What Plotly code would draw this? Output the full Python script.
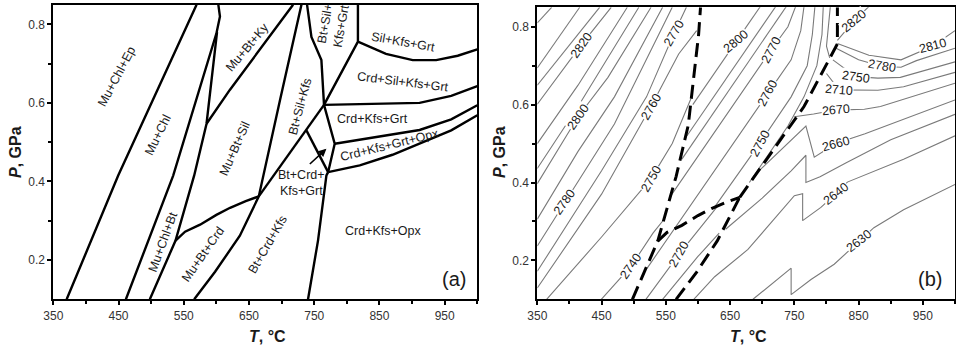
import plotly.graph_objects as go

T_TICKS = [350, 450, 550, 650, 750, 850, 950]
T_MINOR = [400, 500, 600, 700, 800, 900, 1000]
P_TICKS = [0.2, 0.4, 0.6, 0.8]
P_MINOR = [0.3, 0.5, 0.7]
T_RANGE = [350, 1000]
P_RANGE = [0.1, 0.85]

# ---------------- Panel (a): phase boundaries (T degC, P GPa) ----------------
ep_T = [370.5, 449.5, 569.6]
ep_P = [0.10, 0.415, 0.85]
chl_bt_T = [461.3, 533.8, 600.2, 605.5, 603.0]
chl_bt_P = [0.10, 0.415, 0.778, 0.82, 0.85]
chl_out_T = [498.0, 537.4, 566.0, 584.9, 601.0]
chl_out_P = [0.10, 0.2495, 0.4153, 0.547, 0.780]
ky_sil_T = [584.9, 620.6, 717.6]
ky_sil_P = [0.547, 0.633, 0.85]
crd_low_T = [537.4, 552, 575, 600, 621, 645, 665]
crd_low_P = [0.2495, 0.272, 0.290, 0.315, 0.333, 0.350, 0.362]
mu_out_T = [566, 598, 636, 665, 697.5, 730.4]
mu_out_P = [0.10, 0.17, 0.262, 0.362, 0.607, 0.85]
crd_high_T = [665, 738, 765]
crd_high_P = [0.362, 0.530, 0.595]
grt_in_T = [765, 763, 761, 745.7, 739]
grt_in_P = [0.595, 0.66, 0.709, 0.768, 0.85]
bt_out_hi_T = [765, 817, 817]
bt_out_hi_P = [0.595, 0.756, 0.85]
sil_out_T = [817, 860, 901, 937, 970, 1000]
sil_out_P = [0.756, 0.725, 0.709, 0.709, 0.72, 0.736]
crd_sil_T = [765, 850, 911.5, 960, 1000]
crd_sil_P = [0.595, 0.597, 0.600, 0.618, 0.6425]
mid_vert_T = [765, 781.4, 771.3]
mid_vert_P = [0.595, 0.496, 0.4237]
opx_up_T = [781.4, 850, 911.5, 960, 1000]
opx_up_P = [0.496, 0.514, 0.531, 0.558, 0.594]
opx_lo_T = [771.3, 819.8, 870, 911.5, 960, 1000]
opx_lo_P = [0.4237, 0.441, 0.468, 0.496, 0.530, 0.5685]
bt_grt_T = [738, 771.3]
bt_grt_P = [0.530, 0.4237]
bt_out_lo_T = [771.3, 768.7, 755.8, 740.5]
bt_out_lo_P = [0.4237, 0.4153, 0.2495, 0.10]

a_lines = [(ep_T, ep_P), (chl_bt_T, chl_bt_P), (chl_out_T, chl_out_P), (ky_sil_T, ky_sil_P),
           (crd_low_T, crd_low_P), (mu_out_T, mu_out_P), (crd_high_T, crd_high_P),
           (grt_in_T, grt_in_P), (bt_out_hi_T, bt_out_hi_P), (sil_out_T, sil_out_P),
           (crd_sil_T, crd_sil_P), (mid_vert_T, mid_vert_P), (opx_up_T, opx_up_P),
           (opx_lo_T, opx_lo_P), (bt_grt_T, bt_grt_P), (bt_out_lo_T, bt_out_lo_P)]

field_text = ["Mu+Chl+Ep", "Mu+Chl", "Mu+Bt+Ky", "Mu+Bt+Sil", "Mu+Chl+Bt", "Mu+Bt+Crd",
              "Bt+Crd+Kfs", "Bt+Sil+Kfs", "Bt+Sil+<br>Kfs+Grt", "Sil+Kfs+Grt",
              "Crd+Sil+Kfs+Grt", "Crd+Kfs+Grt", "Crd+Kfs+Grt+Opx", "Crd+Kfs+Opx"]
field_T = [447, 511, 648, 628, 518.5, 580, 679, 728, 779, 886, 886, 840, 866, 855]
field_P = [0.666, 0.517, 0.742, 0.483, 0.245, 0.215, 0.241, 0.59, 0.798, 0.756, 0.653, 0.56, 0.494, 0.275]
field_ang = [-62, -64, -50, -66, -70, -55, -60, -75, -80, 10, 7, 0, -14, 0]

arrow_label = "Bt+Crd+<br>Kfs+Grt"
arrow_label_T, arrow_label_P = 730.4, 0.396
arrow_head_T, arrow_head_P = 768.7, 0.4834
arrow_tail_T, arrow_tail_P = 741, 0.441

# ---------------- Panel (b): density contours (kg/m3) ----------------
dash_chl_T = [498.0, 537.4, 566.0, 584.9, 601.0, 604.0]
dash_chl_P = [0.10, 0.2495, 0.4153, 0.547, 0.780, 0.85]
dash_crd_low_T = crd_low_T
dash_crd_low_P = crd_low_P
dash_mu_T = [566, 598, 630, 665]
dash_mu_P = [0.10, 0.17, 0.25, 0.362]
dash_crd_hi_T = [665, 738, 765, 817, 817]
dash_crd_hi_P = [0.362, 0.530, 0.595, 0.756, 0.85]

# left region (Mu+Chl fields)
c2840_T = [350, 372.3]; c2840_P = [0.81, 0.85]
c2830_T = [350, 416]; c2830_P = [0.694, 0.85]
c2825_T = [350, 447]; c2825_P = [0.65, 0.85]
c2820_T = [350, 418.7, 465]; c2820_P = [0.601, 0.754, 0.85]
c2815_T = [350, 413.4, 490]; c2815_P = [0.50, 0.65, 0.85]
c2810_T = [350, 413.4, 508]; c2810_P = [0.436, 0.595, 0.85]
c2800_T = [350, 413.4, 460, 527]; c2800_P = [0.397, 0.569, 0.67, 0.85]
c2790_T = [350, 413.4, 470, 545]; c2790_P = [0.306, 0.48, 0.62, 0.85]
c2780_T = [350, 392.8, 470, 560]; c2780_P = [0.237, 0.349, 0.55, 0.85]
c2770_T = [350, 450, 520, 563, 582]; c2770_P = [0.172, 0.43, 0.62, 0.784, 0.85]
c2760_T = [350, 450, 526.9, 570, 598]; c2760_P = [0.129, 0.37, 0.595, 0.73, 0.79]
c2750_T = [364.5, 450, 526.9, 560, 589]; c2750_P = [0.10, 0.26, 0.41, 0.50, 0.615]
c2740_T = [449.6, 496, 530, 547]; c2740_P = [0.10, 0.185, 0.27, 0.305]
# middle wedge (Mu+Bt / Bt+Sil fields)
m2800_T = [592, 659.9, 697]; m2800_P = [0.60, 0.763, 0.852]
m2790_T = [583, 700, 721]; m2790_P = [0.52, 0.80, 0.852]
m2780_T = [575, 700, 737.5]; m2780_P = [0.46, 0.76, 0.852]
m2770_T = [559, 714, 740, 752]; m2770_P = [0.369, 0.741, 0.80, 0.852]
m2760_T = [521, 600, 708.8, 745, 760, 765]; m2760_P = [0.18, 0.37, 0.629, 0.715, 0.79, 0.852]
m2750_T = [625, 695.9, 745, 770, 778, 782]; m2750_P = [0.335, 0.50, 0.62, 0.70, 0.78, 0.852]
m2740_T = [680, 740, 765, 785, 793, 795]; m2740_P = [0.40, 0.545, 0.62, 0.70, 0.78, 0.852]
m2730_T = [806, 802, 800, 805]; m2730_P = [0.852, 0.79, 0.75, 0.72]
m2720_T = [519, 570.7, 630]; m2720_P = [0.10, 0.216, 0.338]
m2710_T = [545, 600, 633]; m2710_P = [0.10, 0.21, 0.27]
# right region (Sil / Crd / Opx fields)
c2820r_T = [817, 842.8, 866]; c2820r_P = [0.765, 0.815, 0.852]
c2810r_T = [817, 866, 916, 965, 1000]; c2810r_P = [0.757, 0.727, 0.715, 0.75, 0.79]
c2780r_T = [815, 850, 886.6, 916, 940, 1000]; c2780r_P = [0.745, 0.715, 0.698, 0.696, 0.713, 0.745]
c2750r_T = [810, 845.5, 880, 915, 1000]; c2750r_P = [0.715, 0.672, 0.668, 0.67, 0.71]
c2710r_T = [800, 819.6, 880, 920, 1000]; c2710r_P = [0.68, 0.638, 0.637, 0.646, 0.683]
c2670r_T = [749.7, 780, 814.5, 859, 884, 1000]; c2670r_P = [0.569, 0.576, 0.586, 0.588, 0.595, 0.655]
c2660_T = [695, 745, 768, 781, 814.5, 860, 900, 1000]
c2660_P = [0.43, 0.51, 0.545, 0.465, 0.50, 0.525, 0.55, 0.612]
c2650_T = [643, 700, 745, 768, 768, 790, 830, 900, 1000]
c2650_P = [0.28, 0.36, 0.43, 0.47, 0.40, 0.415, 0.45, 0.51, 0.575]
c2640_T = [593.5, 626, 677.8, 750, 762.9, 762.9, 791.3, 814.5, 832.5, 858, 920, 1000]
c2640_P = [0.10, 0.158, 0.228, 0.366, 0.371, 0.302, 0.336, 0.371, 0.401, 0.418, 0.46, 0.52]
c2630_T = [685.6, 742.3, 745, 745, 775.9, 812, 850.5, 873.8, 920, 1000]
c2630_P = [0.10, 0.177, 0.18, 0.112, 0.151, 0.19, 0.25, 0.284, 0.33, 0.395]

contours_b = [(c2840_T, c2840_P), (c2830_T, c2830_P), (c2825_T, c2825_P), (c2820_T, c2820_P),
              (c2815_T, c2815_P), (c2810_T, c2810_P), (c2800_T, c2800_P), (c2790_T, c2790_P),
              (c2780_T, c2780_P), (c2770_T, c2770_P), (c2760_T, c2760_P), (c2750_T, c2750_P),
              (c2740_T, c2740_P),
              (m2800_T, m2800_P), (m2790_T, m2790_P), (m2780_T, m2780_P), (m2770_T, m2770_P),
              (m2760_T, m2760_P), (m2750_T, m2750_P), (m2740_T, m2740_P), (m2730_T, m2730_P),
              (m2720_T, m2720_P), (m2710_T, m2710_P),
              (c2820r_T, c2820r_P), (c2810r_T, c2810r_P), (c2780r_T, c2780r_P),
              (c2750r_T, c2750r_P), (c2710r_T, c2710r_P), (c2670r_T, c2670r_P),
              (c2660_T, c2660_P), (c2650_T, c2650_P), (c2640_T, c2640_P), (c2630_T, c2630_P)]

clabel_text = ["2820", "2800", "2780", "2770", "2760", "2750", "2740", "2720", "2800", "2770",
               "2760", "2750", "2820", "2810", "2780", "2750", "2710", "2670", "2660", "2640", "2630"]
clabel_T = [418.7, 413.4, 392.8, 563, 526.9, 526.9, 496, 570.7, 659.9, 714, 708.8, 695.9,
            842.8, 965, 886.6, 845.5, 819.6, 814.5, 814.5, 814.5, 850.5]
clabel_P = [0.754, 0.569, 0.349, 0.784, 0.595, 0.41, 0.185, 0.216, 0.763, 0.741, 0.629, 0.50,
            0.815, 0.75, 0.698, 0.672, 0.638, 0.586, 0.50, 0.371, 0.25]
clabel_ang = [-55, -55, -55, -60, -60, -60, -55, -60, -40, -62, -62, -62,
              -40, -15, 10, 8, 5, -5, -15, -38, -38]

FONT = "Liberation Sans, Arial, sans-serif"
fig = go.Figure()

for T, P in a_lines:
    fig.add_trace(go.Scatter(x=T, y=P, mode="lines", line=dict(color="black", width=2.4),
                             hoverinfo="skip", showlegend=False, xaxis="x", yaxis="y"))

for T, P in contours_b:
    fig.add_trace(go.Scatter(x=T, y=P, mode="lines", line=dict(color="#7a7a7a", width=1.1),
                             hoverinfo="skip", showlegend=False, xaxis="x2", yaxis="y2"))

for T, P in [(dash_chl_T, dash_chl_P), (dash_crd_low_T, dash_crd_low_P),
             (dash_mu_T, dash_mu_P), (dash_crd_hi_T, dash_crd_hi_P)]:
    fig.add_trace(go.Scatter(x=T, y=P, mode="lines",
                             line=dict(color="black", width=3, dash="14px,7px"),
                             hoverinfo="skip", showlegend=False, xaxis="x2", yaxis="y2"))

ann = []
for t, x, y, a in zip(field_text, field_T, field_P, field_ang):
    ann.append(dict(text=t, x=x, y=y, xref="x", yref="y", showarrow=False, textangle=a,
                    xanchor="center", yanchor="middle",
                    font=dict(family=FONT, size=12.5, color="#1a1a1a")))
ann.append(dict(text=arrow_label, x=arrow_label_T, y=arrow_label_P, xref="x", yref="y",
                showarrow=False, xanchor="center", yanchor="middle",
                font=dict(family=FONT, size=12.5, color="#1a1a1a")))
ann.append(dict(text="", x=arrow_head_T, y=arrow_head_P, ax=arrow_tail_T, ay=arrow_tail_P,
                xref="x", yref="y", axref="x", ayref="y", showarrow=True, arrowhead=2,
                arrowsize=1, arrowwidth=1.6, arrowcolor="black"))
for t, x, y, a in zip(clabel_text, clabel_T, clabel_P, clabel_ang):
    ann.append(dict(text=t, x=x, y=y, xref="x2", yref="y2", showarrow=False, textangle=a,
                    bgcolor="white", borderpad=0, xanchor="center", yanchor="middle",
                    font=dict(family=FONT, size=12.5, color="#1a1a1a")))
ann.append(dict(text="(a)", x=965, y=0.151, xref="x", yref="y", showarrow=False,
                xanchor="center", yanchor="middle",
                font=dict(family=FONT, size=20, color="#1a1a1a")))
ann.append(dict(text="(b)", x=961, y=0.151, xref="x2", yref="y2", showarrow=False,
                xanchor="center", yanchor="middle",
                font=dict(family=FONT, size=20, color="#1a1a1a")))
for xc in [267.5 / 956, 748.5 / 956]:
    ann.append(dict(text="<b><i>T</i>, °C</b>", x=xc, y=(350 - 336.5) / 350, xref="paper",
                    yref="paper", showarrow=False, xanchor="center", yanchor="middle",
                    font=dict(family=FONT, size=16, color="#1a1a1a")))
for xc in [15 / 956, 499 / 956]:
    ann.append(dict(text="<b><i>P</i>, GPa</b>", x=xc, y=(350 - 152) / 350, xref="paper",
                    yref="paper", showarrow=False, textangle=-90, xanchor="center",
                    yanchor="middle", font=dict(family=FONT, size=16, color="#1a1a1a")))

def xax(domain):
    return dict(domain=domain, range=T_RANGE, tickvals=T_TICKS, ticks="outside", ticklen=4,
                tickwidth=1.5, tickcolor="black", showline=True, linewidth=2, linecolor="black",
                mirror=True, showgrid=False, zeroline=False, automargin=False,
                tickfont=dict(family=FONT, size=12, color="#333"),
                minor=dict(tickvals=T_MINOR, ticks="outside", ticklen=3, tickwidth=1.5, tickcolor="black"))

def yax(domain, anchor):
    return dict(domain=domain, range=P_RANGE, tickvals=P_TICKS, ticktext=["0.2", "0.4", "0.6", "0.8"],
                ticks="outside", ticklen=4, tickwidth=1.5, tickcolor="black", showline=True,
                linewidth=2, linecolor="black", mirror=True, showgrid=False, zeroline=False,
                automargin=False, anchor=anchor, tickfont=dict(family=FONT, size=12, color="#333"),
                minor=dict(tickvals=P_MINOR, ticks="outside", ticklen=3, tickwidth=1.5, tickcolor="black"))

fig.update_layout(
    width=956, height=350, margin=dict(l=0, r=0, t=0, b=0, autoexpand=False),
    paper_bgcolor="white", plot_bgcolor="white",
    xaxis=dict(xax([53.3 / 956, 477.3 / 956]), anchor="y"),
    yaxis=yax([(350 - 299.3) / 350, (350 - 4.7) / 350], "x"),
    xaxis2=dict(xax([537.3 / 956, 955.0 / 956]), anchor="y2"),
    yaxis2=yax([(350 - 299.3) / 350, (350 - 7.3) / 350], "x2"),
    annotations=ann,
)
fig.write_html("out.html", config={"displayModeBar": False},
               post_script="document.body.style.margin='0px';")
